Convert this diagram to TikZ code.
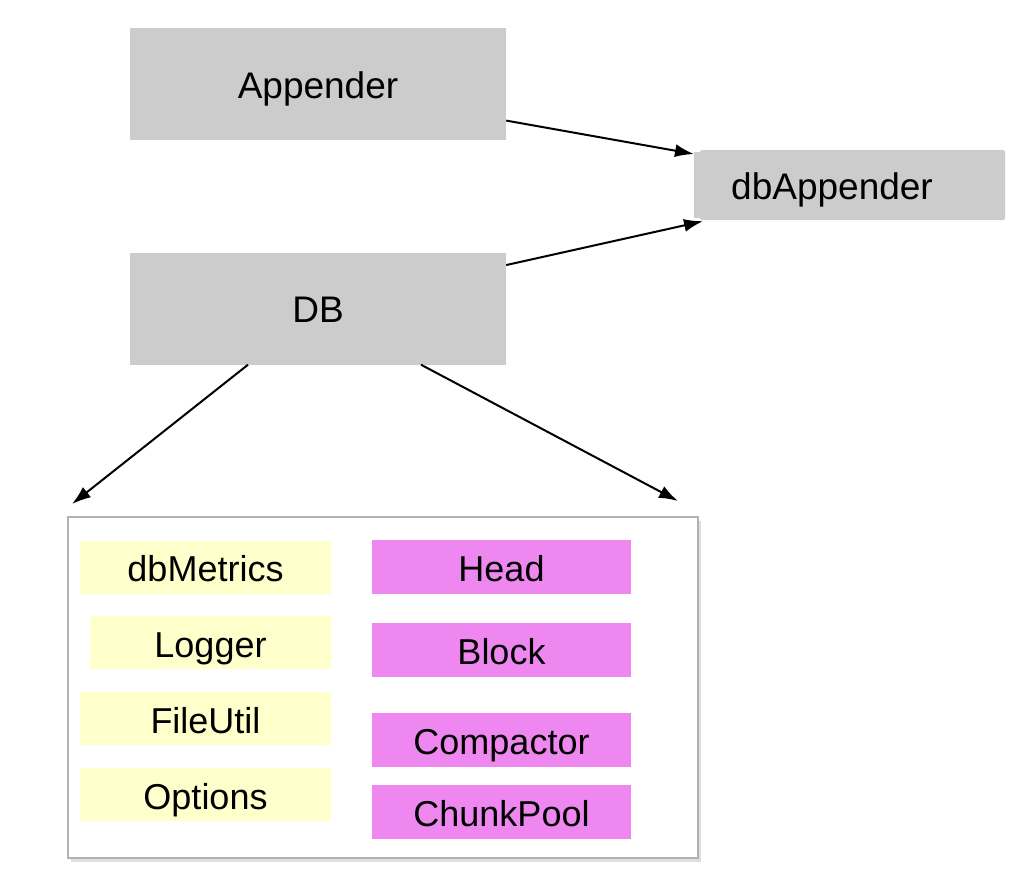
\documentclass[tikz,border=0pt]{standalone}
\usepackage{fontspec}
\setmainfont{Liberation Sans}
\usetikzlibrary{arrows.meta,positioning,shadows}
\definecolor{boxgray}{HTML}{CCCCCC}
\definecolor{utilyellow}{HTML}{FFFFCC}
\definecolor{corepink}{HTML}{EE88F0}

\begin{document}
\begin{tikzpicture}[x=1pt,y=-1pt]
\tikzstyle{main}=[rectangle, fill=boxgray, inner sep=0pt, minimum width=376pt, minimum height=112pt, text height=31pt, text depth=3pt, font=\fontsize{37}{40}\selectfont]
\tikzstyle{util}=[rectangle, fill=utilyellow, inner sep=0pt, minimum width=251pt, minimum height=53pt, text height=32pt, text depth=3pt, font=\fontsize{36}{40}\selectfont]
\tikzstyle{core}=[rectangle, fill=corepink, inner sep=0pt, minimum width=259pt, minimum height=54pt, text height=32pt, text depth=3pt, font=\fontsize{36}{40}\selectfont]
\tikzstyle{connect}=[-{Latex[length=19pt,width=13pt]}, line width=2pt]
\tikzstyle{box}=[rectangle, draw=black!30, line width=2pt, fill=white, inner sep=0pt, minimum width=630pt, minimum height=341pt, drop shadow={opacity=0.25, shadow xshift=3pt, shadow yshift=-4pt}]
\useasboundingbox (0,0) rectangle (1032,886);
  \node[main] (app) at (318,84) {Appender};
  \node[main] (db) at (318,308.5) {DB};
\node[rectangle, fill=boxgray, rounded corners=2pt, minimum width=305pt, minimum height=70pt] (dbaback) at (852.5,185) {};
  \node[main, anchor=west, minimum width=291pt, minimum height=66pt, inner xsep=37pt, text width=217pt, align=left] (dba) at (694,185) {dbAppender};
\node[box] (store) at (383,687.5) {};
  \node[util] (metrics) at (205.5,567) {dbMetrics};
  \node[util, minimum width=241pt] (logger) at (210.5,642.5) {Logger};
  \node[util] (fileutil) at (205.5,718.5) {FileUtil};
  \node[util] (options) at (205.5,794.5) {Options};
  \node[core] (head) at (501.5,567) {Head};
  \node[core] (block) at (501.5,650) {Block};
  \node[core] (compactor) at (501.5,740) {Compactor};
  \node[core] (chunkpool) at (501.5,812) {ChunkPool};
  \draw[connect] (app.-11) -- (dba.168);
  \draw[connect] (db.13) -- ([xshift=9pt,yshift=-3pt]dba.south west);
  \draw[connect] ([xshift=-70pt]db.south) -- ([xshift=5pt,yshift=12pt]store.north west);
  \draw[connect] ([xshift=103pt]db.south) -- ([xshift=-21pt,yshift=15pt]store.north east);
\end{tikzpicture}
\end{document}
